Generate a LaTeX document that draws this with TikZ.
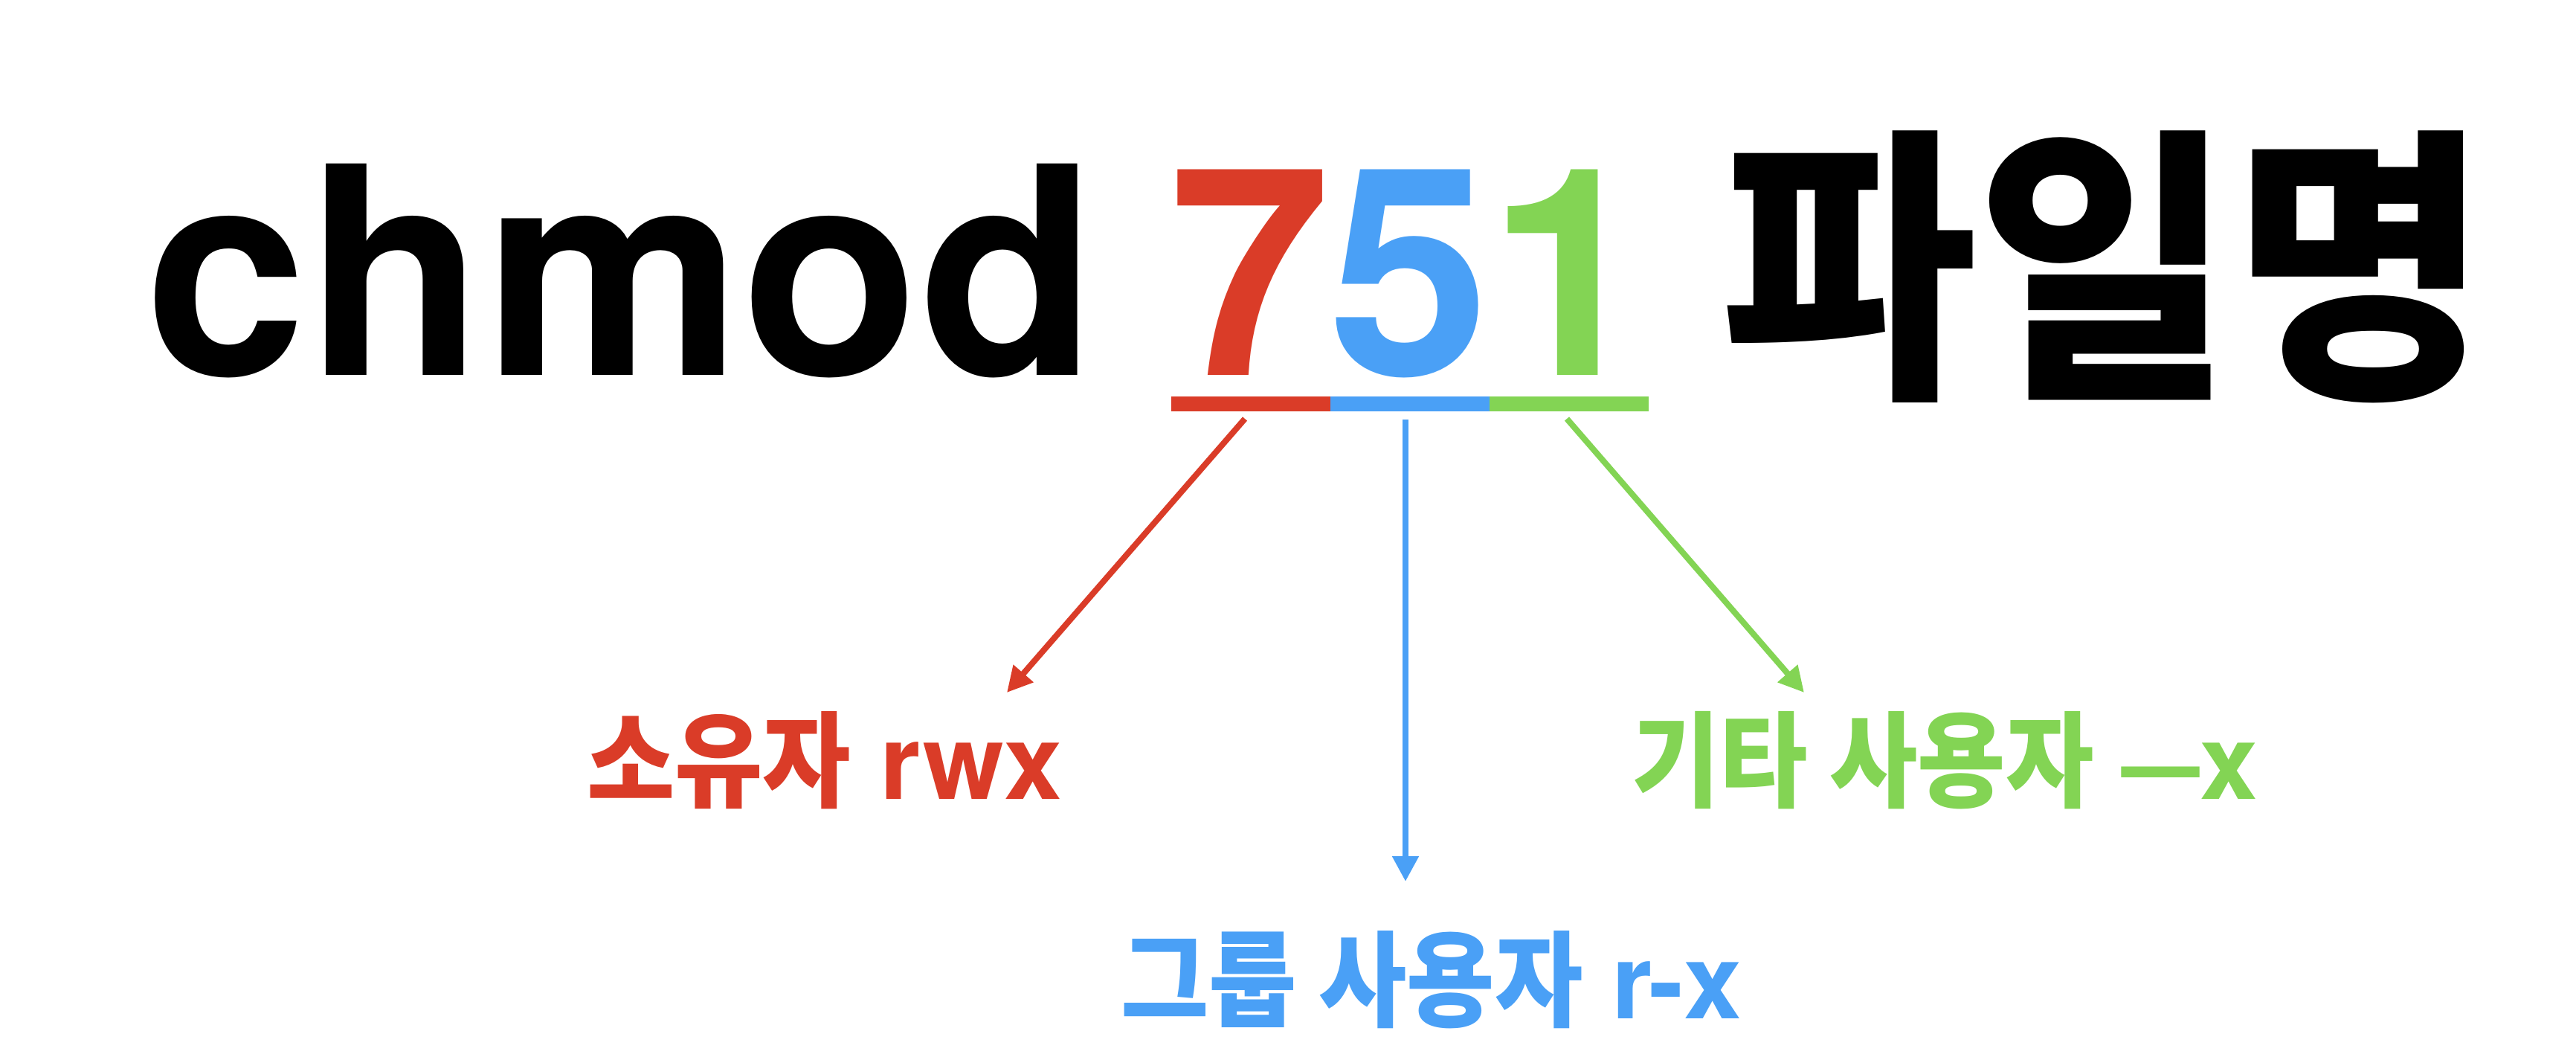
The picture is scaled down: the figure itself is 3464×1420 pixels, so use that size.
\documentclass[tikz,border=0pt]{standalone}
\usepackage{fontspec}
\setmainfont{TeX Gyre Heros}
\newfontfamily\kr{Noto Sans CJK KR Bold}
\usetikzlibrary{arrows.meta}
\definecolor{cred}{RGB}{218,60,40}
\definecolor{cblue}{RGB}{74,160,246}
\definecolor{cgreen}{RGB}{131,212,84}
\newcommand\krl[1]{\scalebox{0.92}[1]{\kr #1}}
\newcommand\krt[1]{\scalebox{0.96}[1]{\kr #1}}
\begin{document}
\begin{tikzpicture}[x=0.1pt,y=-0.1pt,
  big/.style={inner sep=0pt,outer sep=0pt,font=\bfseries\fontsize{39}{40}\selectfont},
  lbl/.style={inner sep=0pt,outer sep=0pt,anchor=base west,font=\bfseries\fontsize{14}{15}\selectfont},
  bar/.style={inner sep=0pt,outer sep=0pt,anchor=north west,minimum width=21.4pt,minimum height=2pt},
  conn/.style={line width=0.8pt,-{Triangle[length=3.4pt,width=3.4pt]}}]
\useasboundingbox (0,0) rectangle (3464,1420);
\fill[white] (0,0) rectangle (3464,1420);
% title
\node[big,anchor=base west] (cmd) at (196,504) {chmod};
\node[big,anchor=base,text=cred] (d7) at (1681,504) {7};
\node[big,anchor=base,text=cblue] (d5) at (1895,504) {5};
\node[big,anchor=base,text=cgreen] (d1) at (2110,504) {1};
\node[big,anchor=base west] (fname) at (2314,504) {\krt{파일명}};
% bars
\node[bar,fill=cred] (b7) at (1575,533) {};
\node[bar,fill=cblue] (b5) at (1789,533) {};
\node[bar,fill=cgreen] (b1) at (2003,533) {};
% labels
\node[lbl,text=cred] (owner) at (789,1074) {\krl{소유자} rwx};
\node[lbl,text=cblue] (group) at (1507,1369) {\krl{그룹 사용자} r-x};
\node[lbl,text=cgreen] (other) at (2194,1074) {\krl{기타 사용자} \scalebox{1.33}[1]{–}x};
% connectors
\coordinate (s7) at (1674,563);
\coordinate (e7) at (1354,931);
\coordinate (s5) at (1890,564);
\coordinate (e5) at (1890,1185);
\coordinate (s1) at (2107,563);
\coordinate (e1) at (2426,931);
\draw[conn,cred] (s7) -- (e7);
\draw[conn,cblue] (s5) -- (e5);
\draw[conn,cgreen] (s1) -- (e1);
\end{tikzpicture}
\end{document}
